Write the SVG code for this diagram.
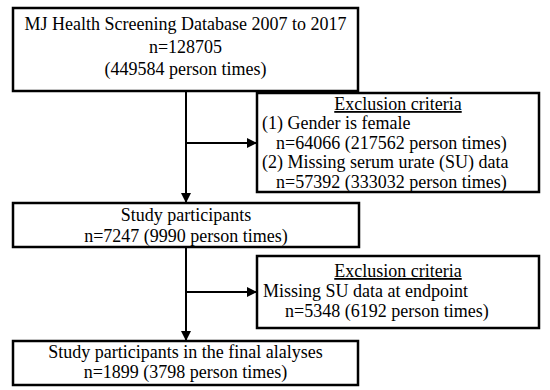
<svg xmlns="http://www.w3.org/2000/svg" width="550" height="390" viewBox="0 0 550 390">
<style>
.box{fill:#fff;stroke:#000;stroke-width:2.5}
.t{font-family:"Liberation Serif","Times New Roman",serif;font-size:18px;fill:#000}
.c{text-anchor:middle}
.ln{stroke:#000;stroke-width:2;fill:none}
</style>
<defs>
<marker id="ah" markerWidth="10" markerHeight="10" refX="9" refY="5" orient="auto" markerUnits="userSpaceOnUse">
<path d="M0,0 L10,5 L0,10 Z" fill="#000"/>
</marker>
</defs>
<rect width="550" height="390" fill="#fff"/>
<g id="connectors">
<line class="ln" x1="186" y1="91" x2="186" y2="202" marker-end="url(#ah)"/>
<line class="ln" x1="186" y1="143" x2="256" y2="143" marker-end="url(#ah)"/>
<line class="ln" x1="186" y1="247" x2="186" y2="340" marker-end="url(#ah)"/>
<line class="ln" x1="186" y1="292" x2="256" y2="292" marker-end="url(#ah)"/>
</g>
<g id="n1">
<rect class="box" x="13" y="8" width="345" height="83"/>
<text class="t c" x="185.5" y="30">MJ Health Screening Database 2007 to 2017</text>
<text class="t c" x="185.5" y="52.5">n=128705</text>
<text class="t c" x="185.5" y="75">(449584 person times)</text>
</g>
<g id="n2">
<rect class="box" x="257" y="93" width="282" height="99"/>
<text class="t c" x="398" y="110" text-decoration="underline">Exclusion criteria</text>
<text class="t" x="262" y="129">(1) Gender is female</text>
<text class="t" x="276" y="148.5">n=64066 (217562 person times)</text>
<text class="t" x="262" y="168">(2) Missing serum urate (SU) data</text>
<text class="t" x="276" y="187.5">n=57392 (333032 person times)</text>
</g>
<g id="n3">
<rect class="box" x="13" y="203" width="346" height="44"/>
<text class="t c" x="186" y="221">Study participants</text>
<text class="t c" x="186" y="241.5">n=7247 (9990 person times)</text>
</g>
<g id="n4">
<rect class="box" x="257" y="256" width="282" height="72"/>
<text class="t c" x="398" y="277" text-decoration="underline">Exclusion criteria</text>
<text class="t" x="263" y="297">Missing SU data at endpoint</text>
<text class="t" x="285" y="317">n=5348 (6192 person times)</text>
</g>
<g id="n5">
<rect class="box" x="13" y="341" width="345" height="44"/>
<text class="t c" x="185.5" y="358">Study participants in the final alalyses</text>
<text class="t c" x="185.5" y="378">n=1899 (3798 person times)</text>
</g>
</svg>
